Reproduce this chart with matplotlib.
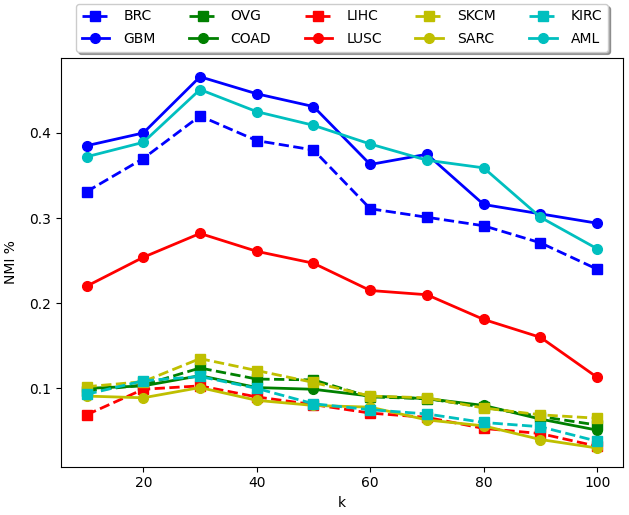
import matplotlib
matplotlib.use("Agg")
import matplotlib.pyplot as plt

# k values
k = [10, 20, 30, 40, 50, 60, 70, 80, 90, 100]

# NMI per cancer type
brc = [0.331, 0.370, 0.420, 0.391, 0.380, 0.311, 0.301, 0.291, 0.271, 0.240]
gbm = [0.385, 0.400, 0.466, 0.446, 0.431, 0.363, 0.375, 0.316, 0.305, 0.294]
ovg = [0.097, 0.104, 0.124, 0.111, 0.110, 0.090, 0.088, 0.078, 0.067, 0.057]
coad = [0.100, 0.103, 0.115, 0.101, 0.099, 0.091, 0.088, 0.080, 0.064, 0.051]
lihc = [0.069, 0.099, 0.103, 0.090, 0.081, 0.071, 0.066, 0.053, 0.047, 0.032]
lusc = [0.220, 0.254, 0.282, 0.261, 0.247, 0.215, 0.210, 0.181, 0.160, 0.113]
skcm = [0.102, 0.108, 0.135, 0.121, 0.107, 0.091, 0.089, 0.077, 0.069, 0.065]
sarc = [0.091, 0.089, 0.101, 0.086, 0.080, 0.078, 0.063, 0.056, 0.040, 0.030]
kirc = [0.093, 0.109, 0.114, 0.100, 0.082, 0.075, 0.070, 0.060, 0.055, 0.038]
aml = [0.372, 0.389, 0.451, 0.425, 0.409, 0.387, 0.368, 0.359, 0.301, 0.264]

fig = plt.figure(figsize=(6.29, 5.15), dpi=100)
ax = fig.add_axes([0.097, 0.094, 0.893, 0.793])

ms = 7
lw = 2
ax.plot(k, brc, "bs--", label="BRC", markersize=ms, linewidth=lw)
ax.plot(k, gbm, "bo-", label="GBM", markersize=ms, linewidth=lw)
ax.plot(k, ovg, "gs--", label="OVG", markersize=ms, linewidth=lw)
ax.plot(k, coad, "go-", label="COAD", markersize=ms, linewidth=lw)
ax.plot(k, lihc, "rs--", label="LIHC", markersize=ms, linewidth=lw)
ax.plot(k, lusc, "ro-", label="LUSC", markersize=ms, linewidth=lw)
ax.plot(k, skcm, "ys--", label="SKCM", markersize=ms, linewidth=lw)
ax.plot(k, sarc, "yo-", label="SARC", markersize=ms, linewidth=lw)
ax.plot(k, kirc, "cs--", label="KIRC", markersize=ms, linewidth=lw)
ax.plot(k, aml, "co-", label="AML", markersize=ms, linewidth=lw)

ax.set_xlabel("k")
ax.set_ylabel("NMI %", labelpad=8)
ax.set_yticks([0.1, 0.2, 0.3, 0.4])

ax.legend(loc="upper center", bbox_to_anchor=(0.5, 1.15), ncol=5,
          fancybox=True, shadow=True, columnspacing=2.4,
          handletextpad=1.0, labelspacing=0.62)

fig.savefig("out.png", dpi=100)
